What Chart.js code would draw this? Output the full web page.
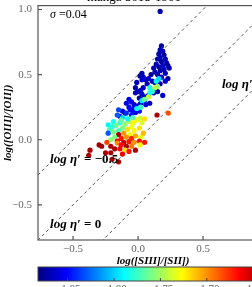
<!DOCTYPE html>
<html>
<head>
<meta charset="utf-8">
<script src="https://cdn.jsdelivr.net/npm/chart.js@4"></script>
<style>
  body { margin:0; background:#fff; }
  #wrap { position:relative; width:252px; height:287px; overflow:hidden; background:#fff; }
  #plot { position:absolute; left:0; top:-10px; }
  #cbar { position:absolute; left:0; top:266px; }
</style>
</head>
<body>
<div id="wrap">
  <canvas id="plot" width="280" height="278"></canvas>
  <canvas id="cbar" width="280" height="34"></canvas>
</div>
<script>
// log([SIII]/[SII]) of each spaxel
var sIII = [
  0.17,0.18,0.17,0.19,0.16,0.20,0.17,0.21,0.15,0.18, 0.22,0.14,0.19,0.23,0.16,0.12,0.20,0.17,0.24,0.13,
  0.10,0.15,0.21,0.18,0.23,0.08,0.06,0.11,0.07,0.13, 0.17,0.21,0.03,0.015,0.04,-0.01,0.03,-0.02,0.00,-0.02,
  0.04,0.02,0.03,0.05,0.01,0.08,0.12,0.15,0.19,-0.07, -0.09,-0.05,-0.03,0.02,0.06,0.00,0.09,-0.06,-0.04,-0.02,
  -0.12,-0.10,-0.14,0.01,
  -0.15,-0.09,-0.05,-0.16,-0.07,-0.03,0.05,-0.12,-0.01,0.03, 0.09,0.14,0.16,0.09,0.13,0.15,0.08,0.05,0.11,0.02,
  -0.01,0.015,-0.036,-0.23,-0.22,-0.23,-0.19,-0.17,-0.14,-0.10, -0.07,-0.05,-0.12,-0.08,-0.15,-0.19,-0.03,0.01,-0.08,-0.04,
  -0.13,0.03,0.05,-0.20,-0.11,-0.06,-0.15,-0.18,-0.13,-0.09, -0.05,-0.02,0.02,0.04,-0.21,-0.16,-0.11,-0.07,-0.03,0.01,
  0.05,-0.24,-0.16,-0.21,-0.13,-0.09,-0.05,0.015,-0.02,-0.18, -0.14,-0.10,-0.07,-0.12,-0.25,-0.21,-0.20,-0.15,-0.30,-0.28,
  -0.37,-0.38,0.146,0.233
];
// log([OIII]/[OII])
var oIII = [
  0.985,0.72,0.69,0.68,0.66,0.65,0.63,0.62,0.62,0.60, 0.59,0.58,0.57,0.57,0.56,0.55,0.54,0.53,0.55,0.52,
  0.50,0.50,0.51,0.48,0.47,0.47,0.46,0.45,0.43,0.44, 0.43,0.45,0.51,0.49,0.48,0.44,0.46,0.40,0.37,0.36,
  0.40,0.38,0.35,0.33,0.32,0.34,0.36,0.37,0.34,0.31, 0.28,0.29,0.27,0.28,0.27,0.26,0.28,0.23,0.22,0.21,
  0.22,0.205,0.18,0.22,
  0.23,0.205,0.19,0.19,0.25,0.245,0.30,0.17,0.24,0.30, 0.36,0.45,0.47,0.40,0.40,0.41,0.33,0.31,0.37,0.25,
  0.15,0.166,0.13,0.115,0.077,0.05,0.14,0.11,0.13,0.12, 0.14,0.10,0.09,0.08,0.07,0.06,0.07,0.09,0.16,0.17,
  0.15,0.13,0.16,0.10,0.05,0.04,0.04,0.02,0.01,0.02, 0.01,0.03,0.02,0.05,0.00,-0.01,-0.02,-0.015,-0.02,-0.01,
  -0.02,-0.02,-0.026,-0.05,-0.04,-0.05,-0.05,-0.04,-0.08,-0.07, -0.07,-0.08,-0.09,-0.11,-0.10,-0.10,-0.15,-0.17,-0.04,-0.05,
  -0.08,-0.12,0.19,0.205
];
// colour-bar quantity
var zval = [
  -1.87,-1.875,-1.87,-1.865,-1.87,-1.875,-1.87,-1.865,-1.87,-1.875, -1.87,-1.87,-1.865,-1.875,-1.87,-1.87,-1.865,-1.875,-1.87,-1.87,
  -1.875,-1.87,-1.865,-1.87,-1.875,-1.86,-1.87,-1.865,-1.87,-1.875, -1.87,-1.86,-1.87,-1.875,-1.865,-1.87,-1.86,-1.87,-1.875,-1.865,
  -1.87,-1.865,-1.86,-1.87,-1.875,-1.865,-1.87,-1.87,-1.86,-1.855, -1.86,-1.85,-1.865,-1.87,-1.86,-1.855,-1.87,-1.86,-1.85,-1.855,
  -1.86,-1.865,-1.855,-1.85,
  -1.835,-1.84,-1.845,-1.83,-1.85,-1.85,-1.845,-1.80,-1.79,-1.795, -1.79,-1.79,-1.80,-1.785,-1.745,-1.75,-1.74,-1.765,-1.78,-1.775,
  -1.73,-1.74,-1.725,-1.79,-1.77,-1.83,-1.785,-1.76,-1.78,-1.755, -1.745,-1.73,-1.76,-1.72,-1.77,-1.76,-1.725,-1.72,-1.79,-1.77,
  -1.765,-1.735,-1.72,-1.78,-1.70,-1.73,-1.645,-1.76,-1.67,-1.70, -1.675,-1.705,-1.73,-1.71,-1.755,-1.665,-1.65,-1.67,-1.70,-1.67,
  -1.67,-1.68,-1.70,-1.645,-1.665,-1.645,-1.695,-1.725,-1.645,-1.645, -1.665,-1.72,-1.67,-1.66,-1.645,-1.645,-1.645,-1.645,-1.645,-1.64,
  -1.645,-1.645,-1.645,-1.685
];

var xTicks = [-0.5, 0, 0.5];
var yTicks = [-0.5, 0, 0.5, 1.0];
var cbTicks = [-1.85, -1.80, -1.75, -1.70, -1.65];
var cbMin = -1.882, cbMax = -1.634;

// log eta' reference lines: y = x - log eta'
var etaLevels = [-0.5, 0, 0.5];
var lineX = [-1, 1.5];

var serif = "'Liberation Serif', 'DejaVu Serif', serif";
Chart.defaults.font.family = serif;

function jet(t){
  t = Math.min(1, Math.max(0, t));
  var c = function(v){ return Math.round(255 * Math.min(1, Math.max(0, v))); };
  return 'rgb(' + c(1.5 - Math.abs(4*t - 3)) + ',' + c(1.5 - Math.abs(4*t - 2)) + ',' + c(1.5 - Math.abs(4*t - 1)) + ')';
}
function fmt1(v){ return (v < 0 ? '\u2212' : '') + Math.abs(v).toFixed(1); }
function fmt2(v){ return (v < 0 ? '\u2212' : '') + Math.abs(v).toFixed(2); }

var points = sIII.map(function(x, i){ return {x: x, y: oIII[i]}; });
var colors = zval.map(function(z){ return jet((z - cbMin) / (cbMax - cbMin)); });

var lineSets = etaLevels.map(function(l){
  return {
    data: lineX.map(function(x){ return {x: x, y: x - l}; }),
    showLine: true, borderColor: '#555', borderWidth: 1, borderDash: [3, 3],
    pointRadius: 0, fill: false, order: 2
  };
});

// texts written inside the axes
var notes = [
  {x: -0.677, y: 0.96, parts: [['italic 12px ' + serif, '\u03c3'], ['12px ' + serif, ' =0.04']]},
  {x: -0.677, y: -0.154, parts: [['bold italic 13px ' + serif, 'log \u03b7\u2032'], ['bold 13px ' + serif, ' = \u22120.5']]},
  {x: -0.677, y: -0.654, parts: [['bold italic 13px ' + serif, 'log \u03b7\u2032'], ['bold 13px ' + serif, ' = 0']]},
  {x: 0.646, y: 0.423, parts: [['bold italic 13px ' + serif, 'log \u03b7\u2032'], ['bold 13px ' + serif, ' = 0.5']]}
];

var framePlugin = {
  id: 'frame',
  afterDatasetsDraw: function(chart){
    var ctx = chart.ctx, a = chart.chartArea, x = chart.scales.x, y = chart.scales.y;
    ctx.save();
    ctx.strokeStyle = '#555';
    ctx.lineWidth = 1.2;
    ctx.strokeRect(a.left, a.top, a.right - a.left, a.bottom - a.top);
    ctx.beginPath();
    xTicks.forEach(function(v){ var p = x.getPixelForValue(v); ctx.moveTo(p, a.bottom); ctx.lineTo(p, a.bottom - 4); });
    yTicks.forEach(function(v){ var p = y.getPixelForValue(v); ctx.moveTo(a.left, p); ctx.lineTo(a.left + 4, p); });
    ctx.stroke();
    ctx.fillStyle = '#000';
    ctx.textBaseline = 'middle';
    ctx.textAlign = 'left';
    notes.forEach(function(n){
      var px = x.getPixelForValue(n.x), py = y.getPixelForValue(n.y);
      n.parts.forEach(function(p){
        ctx.font = p[0];
        ctx.fillText(p[1], px, py);
        px += ctx.measureText(p[1]).width;
      });
    });
    ctx.restore();
  }
};

var tickFont = {family: serif, size: 11};
var titleFont = {family: serif, size: 11, weight: 'bold', style: 'italic'};
var noGrid = {display: false, drawTicks: false, tickLength: 0};

new Chart(document.getElementById('plot'), {
  type: 'scatter',
  data: {
    datasets: [{
      data: points, backgroundColor: colors, pointBackgroundColor: colors,
      pointRadius: 2.6, pointBorderWidth: 0, order: 1
    }].concat(lineSets)
  },
  options: {
    responsive: false, animation: false, devicePixelRatio: 1,
    layout: {padding: {left: 0, right: 12, top: 0, bottom: 0}},
    plugins: {
      legend: {display: false}, tooltip: {enabled: false},
      title: {display: true, text: 'manga 8618-1901', color: '#000',
              font: {family: serif, size: 13, weight: 'normal'}, padding: {top: 0, bottom: 0}}
    },
    scales: {
      x: {
        type: 'linear', min: -0.77, max: 1.0,
        afterFit: function(s){ s.height = 28; },
        afterBuildTicks: function(s){ s.ticks = xTicks.map(function(v){ return {value: v}; }); },
        grid: noGrid, border: {display: false},
        ticks: {padding: 3, font: tickFont, color: '#666', maxRotation: 0, callback: fmt1},
        title: {display: true, text: 'log([SIII]/[SII])', color: '#000', font: titleFont, padding: {top: 0, bottom: 0}}
      },
      y: {
        type: 'linear', min: -0.77, max: 1.03,
        afterFit: function(s){ s.width = 38; },
        afterBuildTicks: function(s){ s.ticks = yTicks.map(function(v){ return {value: v}; }); },
        grid: noGrid, border: {display: false},
        ticks: {padding: 6, font: tickFont, color: '#666', callback: fmt1},
        title: {display: true, text: 'log([OIII]/[OII])', color: '#000', font: titleFont, padding: {top: 2, bottom: 0}}
      }
    }
  },
  plugins: [framePlugin]
});

var cbPlugin = {
  id: 'cbframe',
  afterDatasetsDraw: function(chart){
    var ctx = chart.ctx, a = chart.chartArea, x = chart.scales.x;
    ctx.save();
    ctx.strokeStyle = '#444';
    ctx.lineWidth = 1;
    ctx.strokeRect(a.left, a.top, a.right - a.left, a.bottom - a.top);
    ctx.beginPath();
    cbTicks.forEach(function(v){ var p = x.getPixelForValue(v); ctx.moveTo(p, a.bottom); ctx.lineTo(p, a.bottom - 3); });
    ctx.stroke();
    ctx.restore();
  }
};

new Chart(document.getElementById('cbar'), {
  type: 'bar',
  data: {
    labels: [''],
    datasets: [{
      data: [[cbMin, cbMax]],
      borderWidth: 0, barPercentage: 1, categoryPercentage: 1,
      backgroundColor: function(c){
        var a = c.chart.chartArea;
        if (!a) return '#888';
        var g = c.chart.ctx.createLinearGradient(a.left, 0, a.right, 0);
        for (var i = 0; i <= 16; i++) g.addColorStop(i / 16, jet(i / 16));
        return g;
      }
    }]
  },
  options: {
    indexAxis: 'y', responsive: false, animation: false, devicePixelRatio: 1,
    layout: {padding: {left: 38, right: 12, top: 1, bottom: 0}},
    plugins: {legend: {display: false}, tooltip: {enabled: false}},
    scales: {
      y: {display: false},
      x: {
        type: 'linear', min: cbMin, max: cbMax,
        afterFit: function(s){ s.height = 19; },
        afterBuildTicks: function(s){ s.ticks = cbTicks.map(function(v){ return {value: v}; }); },
        grid: noGrid, border: {display: false},
        ticks: {padding: 2, font: tickFont, color: '#666', maxRotation: 0, callback: fmt2}
      }
    }
  },
  plugins: [cbPlugin]
});
</script>
</body>
</html>
